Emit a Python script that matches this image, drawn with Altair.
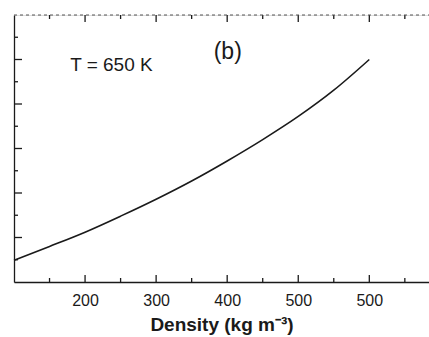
import altair as alt
import pandas as pd

# curve data
density = [100, 150, 200, 250, 300, 350, 400, 450, 500, 550, 600]
value = [0.49, 0.80, 1.12, 1.48, 1.86, 2.27, 2.72, 3.20, 3.72, 4.31, 5.00]

x_tick_values = [200, 300, 400, 500, 600]
x_tick_labels = ["200", "300", "400", "500", "500"]
x_minor = [150, 250, 350, 450, 550, 650]
y_major = [1, 2, 3, 4, 5]
y_minor = [0.5, 1.5, 2.5, 3.5, 4.5, 5.5]

ann_text = ["T = 650 K", "(b)"]
ann_x = [179, 381]
ann_y = [4.88, 5.17]

W, H = 415, 267
FONT = "Liberation Sans"
INK = "#1a1a1a"

xs = alt.Scale(domain=[100, 684], nice=False, zero=False)
ys = alt.Scale(domain=[0, 6], nice=False, zero=False)

label_expr = " : ".join(
    [f"datum.value == {v} ? '{l}'" for v, l in zip(x_tick_values, x_tick_labels)]
) + " : ''"

df = pd.DataFrame({"d": density, "v": value})

line = alt.Chart(df).mark_line(color=INK, strokeWidth=1.6, interpolate="monotone").encode(
    x=alt.X("d:Q", scale=xs,
            axis=alt.Axis(values=x_tick_values, labelExpr=label_expr, ticks=False,
                          grid=False, domainColor=INK, domainWidth=1.3,
                          labelFont=FONT, labelFontSize=16, labelColor=INK,
                          labelPadding=10, title="Density (kg m⁻³)",
                          titleFont=FONT, titleFontSize=19, titleFontWeight="bold",
                          titleColor=INK, titlePadding=7)),
    y=alt.Y("v:Q", scale=ys,
            axis=alt.Axis(labels=False, ticks=False, grid=False, title=None,
                          domainColor=INK, domainWidth=1.3)),
)

xmaj = pd.DataFrame({"t": x_tick_values})
xmin = pd.DataFrame({"t": x_minor})
ymaj = pd.DataFrame({"t": y_major})
ymin = pd.DataFrame({"t": y_minor})

def xrule(df_, y0, y1):
    return alt.Chart(df_).mark_rule(color=INK, strokeWidth=1.3).encode(
        x=alt.X("t:Q", scale=xs), y=alt.value(y0), y2=alt.value(y1))

def yrule(df_, x0, x1):
    return alt.Chart(df_).mark_rule(color=INK, strokeWidth=1.3).encode(
        y=alt.Y("t:Q", scale=ys), x=alt.value(x0), x2=alt.value(x1))

top_border = alt.Chart(pd.DataFrame({"a": [0]})).mark_rule(
    color="#555555", strokeWidth=1.0, strokeDash=[3, 3]).encode(
    x=alt.value(0), x2=alt.value(W), y=alt.value(0))

ann = alt.Chart(pd.DataFrame({"t": ann_text, "x": ann_x, "y": ann_y})).mark_text(
    font=FONT, color=INK, align="left", baseline="middle").encode(
    x=alt.X("x:Q", scale=xs), y=alt.Y("y:Q", scale=ys), text="t:N",
    size=alt.condition(alt.datum.t == "(b)", alt.value(23), alt.value(19)))

chart = alt.layer(
    line,
    xrule(xmaj, H, H - 7), xrule(xmin, H, H - 4),
    xrule(xmaj, 0, 7), xrule(xmin, 0, 4),
    yrule(ymaj, 0, 8), yrule(ymin, 0, 4),
    top_border, ann,
).properties(
    width=W, height=H,
    autosize=alt.AutoSizeParams(type="none"),
    padding={"left": 14, "top": 15, "right": 0, "bottom": 55},
).configure_view(stroke=None).configure(background="white")

chart.save("out.html", embed_options={"renderer": "svg", "actions": False})
